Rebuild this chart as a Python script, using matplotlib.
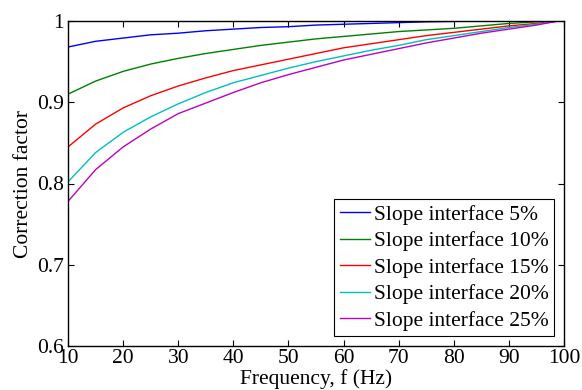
import matplotlib
matplotlib.use("Agg")
import matplotlib.pyplot as plt

plt.rcParams['font.family'] = ['Liberation Serif', 'DejaVu Serif']
plt.rcParams['mathtext.fontset'] = 'stix'

freq = [10, 15, 20, 25, 30, 35, 40, 45, 50, 55, 60, 65, 70, 75, 80, 85, 90, 95, 99]
s5 = [0.968, 0.975, 0.979, 0.983, 0.985, 0.988, 0.990, 0.992, 0.993, 0.995,
      0.996, 0.997, 0.998, 0.999, 0.9995, 1.0, 1.0, 1.0, 1.0]
s10 = [0.910, 0.926, 0.938, 0.947, 0.954, 0.960, 0.965, 0.970, 0.974, 0.978,
       0.981, 0.984, 0.987, 0.989, 0.991, 0.994, 0.997, 0.999, 1.0]
s15 = [0.845, 0.873, 0.893, 0.908, 0.920, 0.930, 0.939, 0.946, 0.953, 0.960,
       0.967, 0.972, 0.977, 0.982, 0.986, 0.990, 0.994, 0.997, 1.0]
s20 = [0.802, 0.838, 0.863, 0.882, 0.898, 0.912, 0.924, 0.933, 0.942, 0.950,
       0.957, 0.964, 0.970, 0.977, 0.982, 0.987, 0.992, 0.996, 1.0]
s25 = [0.778, 0.817, 0.845, 0.867, 0.886, 0.899, 0.912, 0.924, 0.934, 0.943,
       0.952, 0.959, 0.966, 0.973, 0.979, 0.985, 0.990, 0.995, 1.0]

labels = ['Slope interface 5%', 'Slope interface 10%', 'Slope interface 15%',
          'Slope interface 20%', 'Slope interface 25%']
colors = ['#0000ff', '#008000', '#ff0000', '#00bfbf', '#bf00bf']
xticks = [10, 20, 30, 40, 50, 60, 70, 80, 90, 100]
yticks = [0.6, 0.7, 0.8, 0.9, 1.0]
yticklabels = ['0.6', '0.7', '0.8', '0.9', '1']

FS = 15.5
fig = plt.figure(figsize=(5.82, 3.90), dpi=100)
ax = fig.add_axes([68/582, 44/390, 496/582, 325/390])

for ys, lab, c in zip([s5, s10, s15, s20, s25], labels, colors):
    ax.plot(freq, ys, color=c, lw=1.0, label=lab)

ax.set_xlim(10, 100)
ax.set_ylim(0.6, 1.0)
ax.set_xticks(xticks)
ax.set_yticks(yticks)
ax.set_yticklabels(yticklabels)
ax.tick_params(direction='in', top=True, right=True, labelsize=FS, length=4, width=0.8)
ax.tick_params(axis='x', pad=2)
ax.tick_params(axis='y', pad=3)
for sp in ax.spines.values():
    sp.set_linewidth(1.0)

ax.set_xlabel('Frequency, f (Hz)', fontsize=FS, labelpad=1)
ax.set_ylabel('Correction factor', fontsize=FS, labelpad=3)

leg = ax.legend(loc='lower right', fontsize=FS, frameon=True, fancybox=False,
                edgecolor='black', framealpha=1, handlelength=1.4, handletextpad=0.2,
                borderpad=0.25, labelspacing=0.3, borderaxespad=0.45)
leg.get_frame().set_linewidth(0.8)

fig.savefig('out.png', dpi=100)
